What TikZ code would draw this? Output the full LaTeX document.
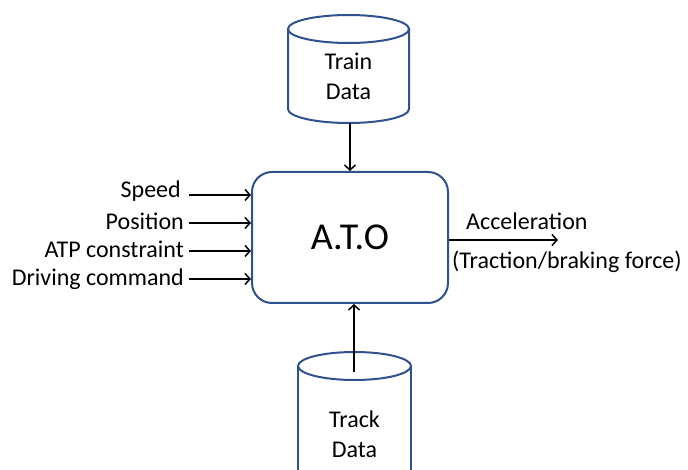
\documentclass[tikz,border=0pt]{standalone}
\usepackage{fontspec}
\setmainfont{Carlito}
\usetikzlibrary{arrows.meta}
\definecolor{edgeblue}{RGB}{47,82,143}
\tikzset{
  label/.style={font=\fontsize{24}{30}\selectfont, inner sep=0pt},
  arr/.style={draw=black, line width=1.5pt, -{Straight Barb[length=5pt,width=11pt,line width=1.5pt]}},
  drum/.style={draw=edgeblue, line width=2pt, fill=white},
  atobox/.style={draw=edgeblue, line width=2pt, fill=white, rounded corners=20pt,
    minimum width=196pt, minimum height=131pt, font=\fontsize{38}{42}\selectfont}
}
\begin{document}
\begin{tikzpicture}[x=1pt,y=-1pt]
\useasboundingbox (0,0) rectangle (688,470);
\clip (0,0) rectangle (688,470);

% Train data store (cylinder)
\path[drum] (288,29) -- (288,109)
  arc[start angle=180, end angle=360, x radius=60.5pt, y radius=14pt] -- (409,29) -- cycle;
\draw[drum] (348.5,29) ellipse [x radius=60.5pt, y radius=14pt];
\node[label, align=center] (train) at (348.5,76) {Train\\Data};
\coordinate (trainbot) at (350,123);

% Track data store (cylinder, runs off the bottom edge)
\path[drum] (298,366) -- (298,480) -- (411,480) -- (411,366) -- cycle;
\draw[drum] (354.5,366) ellipse [x radius=56.5pt, y radius=14pt];
\node[label, align=center] (track) at (354.5,434) {Track\\Data};
\coordinate (tracktop) at (354,372);

% Central controller
\node[atobox] (ato) at (350,237.5) {A.T.O};

% Inputs
\node[label, anchor=east] (speed) at (181,191) {Speed};
\node[label, anchor=east] (pos) at (184,221) {Position};
\node[label, anchor=east] (atp) at (184,249) {ATP constraint};
\node[label, anchor=east] (drive) at (184,279) {Driving command};
\coordinate (i1) at (189,195);
\coordinate (i2) at (189,223);
\coordinate (i3) at (189,251);
\coordinate (i4) at (189,279);
\draw[arr] (i1) -- (i1 -| ato.west);
\draw[arr] (i2) -- (i2 -| ato.west);
\draw[arr] (i3) -- (i3 -| ato.west);
\draw[arr] (i4) -- (i4 -| ato.west);

% Output
\coordinate (out) at (558,240);
\draw[arr] (ato.east |- out) -- (out);
\node[label, anchor=west] (acc) at (466,221) {Acceleration};
\node[label, anchor=west] (force) at (452,262) {(Traction/braking force)};

% Data flows
\draw[arr] (trainbot) -- (trainbot |- ato.north);
\draw[arr] (tracktop) -- (tracktop |- ato.south);
\end{tikzpicture}
\end{document}
